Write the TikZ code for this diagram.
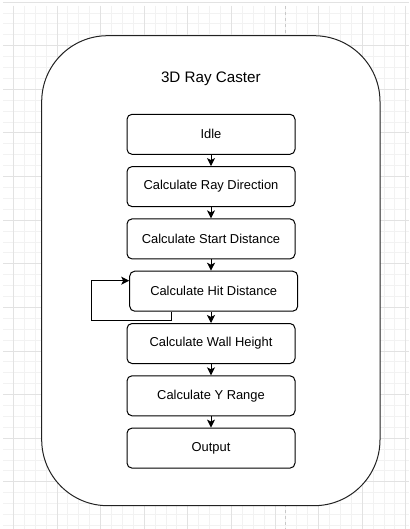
\documentclass[tikz,border=0pt]{standalone}
\usepackage{fontspec}
\setmainfont{Liberation Sans}
\usetikzlibrary{arrows.meta}
\definecolor{gridminor}{HTML}{F2F2F2}
\definecolor{gridmajor}{HTML}{E2E2E2}
\definecolor{pageline}{HTML}{C8C8C8}
\definecolor{edge}{HTML}{222222}
\tikzset{
  stepbox/.style={draw=black, line width=1pt, rounded corners=5pt, fill=white,
    minimum width=168pt, minimum height=40pt, inner sep=0pt,
    font=\fontsize{12.9}{15}\selectfont},
  flow/.style={draw=black, line width=1pt, -{Stealth[length=8pt,width=8pt,inset=2pt]}},
}
\begin{document}
\begin{tikzpicture}[x=1pt,y=-1pt]
\useasboundingbox (0,0) rectangle (409,529);
\fill[white] (0,0) rectangle (409,529);
% grid
\foreach \k in {0,...,36} {
  \draw[gridminor, line width=0.8pt] ({13.3+10.9*\k},6) -- ({13.3+10.9*\k},529);
}
\foreach \k in {0,...,47} {
  \draw[gridminor, line width=0.8pt] (3,{13.0+10.9*\k}) -- (409,{13.0+10.9*\k});
}
\foreach \k in {0,...,9} {
  \draw[gridmajor, line width=0.8pt] ({13.3+43.6*\k},6) -- ({13.3+43.6*\k},529);
}
\foreach \k in {0,...,11} {
  \draw[gridmajor, line width=0.8pt] (3,{2.1+43.6*\k}) -- (409,{2.1+43.6*\k});
}
\draw[pageline, line width=1.2pt, dash pattern=on 3pt off 3pt] (285.8,6) -- (285.8,529);
% container
\node[draw=edge, line width=1pt, fill=white, rounded corners=66pt,
  minimum width=338.3pt, minimum height=470pt, inner sep=0pt] (container) at (210.85,270.7) {};
\node[font=\fontsize{15.2}{18}\selectfont] (title) at (210.85,79) {3D Ray Caster};
% states
\node[stepbox] (idle)  at (211,134.3) {Idle};
\node[stepbox] (ray)   at (211,186.6) {Calculate Ray Direction};
\node[stepbox] (start) at (211,238.9) {Calculate Start Distance};
\node[stepbox] (hit)   at (213.7,291.2) {Calculate Hit Distance};
\node[stepbox] (wall)  at (211,343.5) {Calculate Wall Height};
\node[stepbox] (yr)    at (211,395.8) {Calculate Y Range};
\node[stepbox] (out)   at (211,448.1) {Output};
% connectors
\draw[flow] (idle.south) -- (ray.north);
\draw[flow] (ray.south) -- (start.north);
\draw[flow] (start.south) -- (start.south |- hit.north);
\draw[flow] (start.south |- hit.south) -- (wall.north);
\draw[flow] (wall.south) -- (yr.north);
\draw[flow] (yr.south) -- (out.north);
\coordinate (loopc) at (91,320);
\draw[flow] ([xshift=-42.25pt]hit.south) |- (loopc) |- ([yshift=-10pt]hit.north west);
\end{tikzpicture}
\end{document}
